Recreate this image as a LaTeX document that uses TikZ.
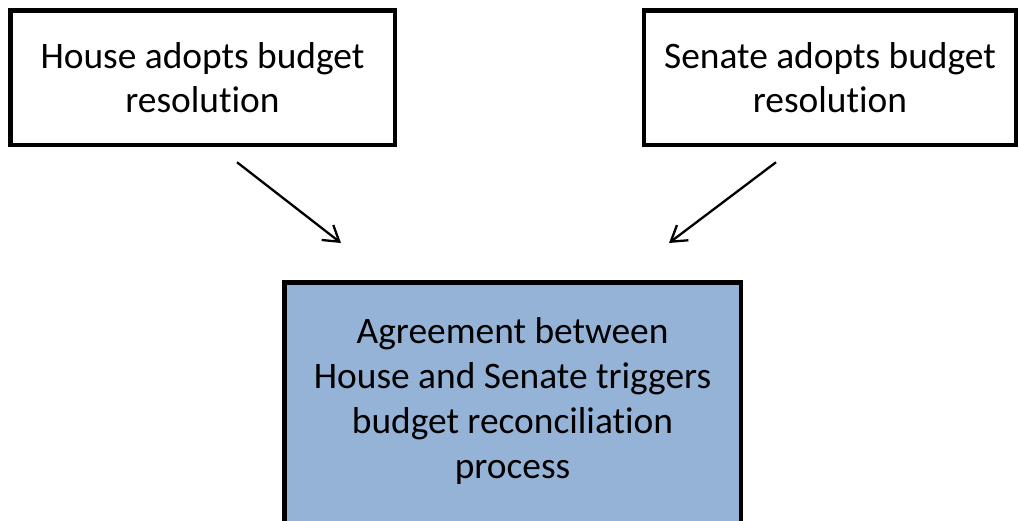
\documentclass[tikz,border=0pt]{standalone}
\usepackage{fontspec}
\setmainfont{Carlito}[Ligatures={NoCommon,NoContextual},Contextuals=NoAlternate]
\usetikzlibrary{arrows.meta,calc}
\definecolor{boxblue}{HTML}{95B3D7}
\begin{document}
\begin{tikzpicture}[x=1pt,y=-1pt,
  box/.style={draw=black,line width=4.5pt,rectangle,align=center,inner sep=0pt,
    font=\fontsize{37.4pt}{44pt}\selectfont},
  arr/.style={line width=2.3pt,-{Straight Barb[length=15pt,width=19pt]}}]
\useasboundingbox (0,0) rectangle (1019,521);
\clip (0,0) rectangle (1019,521);
\fill[white] (0,0) rectangle (1019,521);
\node[box,minimum width=384.5pt,minimum height=134.5pt] (house) at (202.5,78) {House adopts budget\\resolution};
\node[box,minimum width=372pt,minimum height=134.5pt] (senate) at (830,78) {Senate adopts budget\\resolution};
\node[box,fill=boxblue,anchor=north,minimum width=456.5pt,minimum height=264.5pt,
  font=\fontsize{37.4pt}{45pt}\selectfont] (agree) at (512.5,280.25)
  {Agreement between\\House and Senate triggers\\budget reconciliation\\process\rule[-33pt]{0pt}{33pt}};
\coordinate (hs) at ($(house.south)+(34.5,14.75)$);
\coordinate (ss) at ($(senate.south)+(-54,14.75)$);
\coordinate (ah) at ($(agree.north)+(-171.5,-37.25)$);
\coordinate (as) at ($(agree.north)+(156.5,-37.25)$);
\draw[arr] (hs) -- (ah);
\draw[arr] (ss) -- (as);
\end{tikzpicture}
\end{document}
